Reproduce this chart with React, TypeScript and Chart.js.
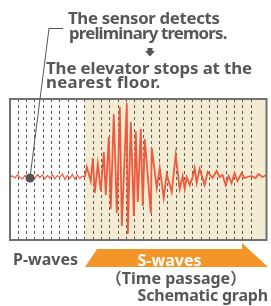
import React, { useEffect, useRef } from "react";
import { Chart, registerables } from "chart.js";

Chart.register(...registerables);

const waveTime = [
  0.0, 0.3, 0.6, 0.9, 1.2, 1.5, 1.8, 2.1, 2.4, 2.7, 3.0, 3.3, 3.6, 3.9, 4.2, 4.5, 4.8,
  5.1, 5.4, 5.7, 6.0, 6.3, 6.6, 6.9, 7.2, 7.5, 7.8, 8.1, 8.4, 8.7,
  9.0, 9.24, 9.72, 9.96, 10.2, 10.56, 10.92, 11.28, 11.52, 11.88, 12.12, 12.48, 12.85, 13.21,
  13.45, 14.05, 14.17, 14.53, 14.89, 15.13, 15.37, 15.73, 15.97, 16.21, 16.93, 17.05, 17.65,
  18.01, 18.49, 18.85, 19.45, 19.93, 20.41, 20.77, 21.01, 21.25, 21.61, 21.97, 22.21, 22.45,
  22.81, 23.41, 23.77, 24.37, 24.85, 25.21, 25.57, 25.93, 26.29, 26.65, 27.01, 27.37, 27.85,
  28.21, 28.57, 29.05, 29.53, 29.89, 30.37, 30.85,
];
const waveAmp = [
  0, 0.1, -0.1, 0.2, -0.05, -0.2, 0.15, -0.1, -0.1, 0.2, -0.15, 0.25, -0.05, 0.2, -0.2, 0.15, -0.1,
  0.25, -0.2, 0.15, -0.05, 0.3, -0.25, 0.15, -0.15, 0.25, -0.2, 0.2, -0.15, 0.1,
  0, 1.0, -0.4, 1.9, -1.6, 1.3, -1.4, 2.5, -1.8, 4.0, -3.2, 6.3, -3.6, 7.0,
  -4.9, 7.4, -5.7, 5.5, -3.9, 4.6, -2.5, 4.8, -2.9, 3.8, -3.6, 2.9, -1.1,
  0.9, -2.1, 0.3, -1.5, 2.2, -1.2, 0.1, -1.2, 0, -0.8, 0, 0.9, -0.6,
  0.8, -0.8, 0.5, -0.1, 0.6, 0, 0.2, -0.8, 0.1, -0.6, 0.4, -0.4, 0.4,
  -0.1, 0, 0.1, -0.1, 0.3, 0, 0.2,
];

const sensorTime = [2.4];
const sensorAmp = [-0.1];

const sWaveStart = 9;
const timeMin = 0;
const timeMax = 30.85;
const ampMin = -6.3;
const ampMax = 7.8;
const gridFirst = 1;
const gridLast = 30;

const TEXT_GRAY = "#575757";
const FONT = '"Noto Sans", "Noto Sans CJK JP", sans-serif';

const decoPlugin = {
  id: "deco",
  beforeDraw(chart: any) {
    const { ctx, chartArea: a, scales } = chart;
    const xs = scales.x.getPixelForValue(sWaveStart);
    ctx.save();
    ctx.fillStyle = "#F3ECD3";
    ctx.fillRect(xs, a.top, a.right - xs, a.bottom - a.top);
    ctx.restore();
  },
  afterDraw(chart: any) {
    const { ctx, chartArea: a } = chart;
    ctx.save();
    // frame
    ctx.strokeStyle = "#707070";
    ctx.lineWidth = 2;
    ctx.strokeRect(a.left, a.top, a.right - a.left, a.bottom - a.top);
    // leader line from the sensor dot
    const p = chart.getDatasetMeta(0).data[0];
    ctx.strokeStyle = "#555";
    ctx.lineWidth = 1;
    ctx.beginPath();
    ctx.moveTo(p.x, p.y);
    ctx.lineTo(49, 28.5);
    ctx.lineTo(63, 28.5);
    ctx.stroke();
    // small down arrow between the captions
    ctx.fillStyle = "#555";
    ctx.fillRect(147.5, 48, 5, 3);
    ctx.beginPath();
    ctx.moveTo(145, 51);
    ctx.lineTo(155, 51);
    ctx.lineTo(150, 56.5);
    ctx.closePath();
    ctx.fill();
    // orange S-wave arrow band
    ctx.fillStyle = "#F4952A";
    ctx.beginPath();
    ctx.moveTo(85, 267);
    ctx.lineTo(97, 249);
    ctx.lineTo(242, 249);
    ctx.lineTo(242, 243);
    ctx.lineTo(268, 267);
    ctx.closePath();
    ctx.fill();
    ctx.restore();
  },
};

export default function App() {
  const ref = useRef<HTMLCanvasElement>(null);
  useEffect(() => {
    if (!ref.current) return;
    const points = waveTime.map((t, i) => ({ x: t, y: waveAmp[i] }));
    const dot = sensorTime.map((t, i) => ({ x: t, y: sensorAmp[i] }));
    const chart = new Chart(ref.current, {
      type: "line",
      data: {
        datasets: [
          {
            data: dot,
            showLine: false,
            pointRadius: 4.5,
            pointBackgroundColor: "#555",
            pointBorderWidth: 0,
          },
          {
            data: points,
            borderColor: "#EF5A3D",
            borderWidth: 1.8,
            pointRadius: 0,
            tension: 0,
            segment: {
              borderWidth: (c: any) => (c.p0.parsed.x < sWaveStart ? 1.2 : 1.8),
            },
          },
        ],
      },
      options: {
        animation: false,
        responsive: false,
        events: [],
        layout: { padding: { left: 10, top: 99, right: 4, bottom: 66 } },
        plugins: { legend: { display: false }, tooltip: { enabled: false } },
        scales: {
          x: {
            type: "linear",
            min: timeMin,
            max: timeMax,
            ticks: { display: false, stepSize: 1 },
            grid: {
              drawTicks: false,
              color: (c: any) =>
                Number.isInteger(c.tick?.value) && c.tick.value >= gridFirst && c.tick.value <= gridLast
                  ? "#5a5a5a"
                  : "rgba(0,0,0,0)",
              lineWidth: 1,
            },
            border: { display: false, dash: [3, 3] },
          },
          y: {
            display: false,
            min: ampMin,
            max: ampMax,
          },
        },
      },
      plugins: [decoPlugin],
    });
    return () => chart.destroy();
  }, []);

  const base: React.CSSProperties = {
    position: "absolute",
    fontFamily: FONT,
    fontWeight: 700,
    fontSize: 16,
    lineHeight: "14.5px",
    color: TEXT_GRAY,
    whiteSpace: "nowrap",
  };
  const top: React.CSSProperties = { ...base, fontSize: 16.8 };

  return (
    <div style={{ position: "fixed", left: 0, top: 0, width: 271, height: 306, background: "#fff", overflow: "hidden" }}>
      <canvas ref={ref} width={271} height={306} style={{ position: "absolute", left: 0, top: 0, width: 271, height: 306 }} />
      <div style={{ ...top, left: 68, top: 11, letterSpacing: "-0.32px" }}>The sensor detects</div>
      <div style={{ ...top, left: 69, top: 25.5, letterSpacing: "-0.8px" }}>preliminary tremors.</div>
      <div style={{ ...top, left: 46, top: 60.5, letterSpacing: "-0.1px" }}>The elevator stops at the</div>
      <div style={{ ...top, left: 46, top: 75, letterSpacing: "0.3px" }}>nearest floor.</div>
      <div style={{ ...base, left: 13, top: 252 }}>P-waves</div>
      <div style={{ ...base, left: 169.5, top: 253, color: "#fff", transform: "translateX(-50%)" }}>S-waves</div>
      <div style={{ ...base, left: 176, top: 271, transform: "translateX(-50%)" }}>（Time passage）</div>
      <div style={{ ...base, right: 3, top: 288, letterSpacing: "-0.2px" }}>Schematic graph</div>
    </div>
  );
}
